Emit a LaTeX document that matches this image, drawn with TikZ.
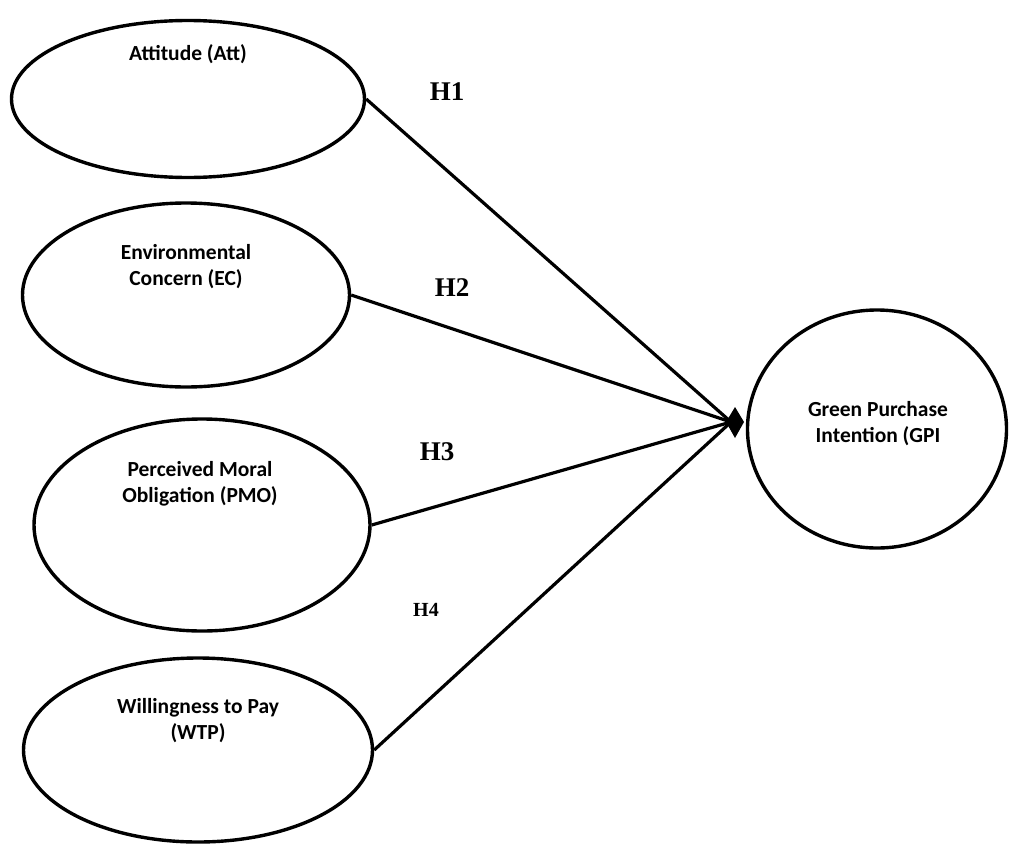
\documentclass[tikz,border=0pt]{standalone}
\usepackage{fontspec}
\setmainfont{Carlito}
\newfontfamily\tnr{Liberation Serif}
\usetikzlibrary{shapes.geometric}
\begin{document}
\begin{tikzpicture}[x=1pt,y=-1pt,
  oval/.style={draw=black, line width=3.4pt, ellipse, inner sep=0pt},
  lbl/.style={font=\fontsize{21.5}{26}\selectfont\bfseries, align=center, inner sep=0pt},
  hyp/.style={font=\tnr\fontsize{27}{30}\selectfont\bfseries, inner sep=0pt},
  hyps/.style={font=\tnr\fontsize{20}{24}\selectfont\bfseries, inner sep=0pt},
  link/.style={draw=black, line width=3.2pt}]
\useasboundingbox (0,0) rectangle (1009,846);

% constructs
\node[oval, minimum width=353pt, minimum height=157pt] (att) at (188,99) {};
\node[lbl] (attT) at (188,54) {Attitude (Att)};

\node[oval, minimum width=327pt, minimum height=184pt] (ec) at (186,295) {};
\node[lbl] (ecT) at (186,267) {Environmental\\Concern (EC)};

\node[oval, minimum width=336pt, minimum height=212pt] (pmo) at (202,525) {};
\node[lbl] (pmoT) at (200,484) {Perceived Moral\\Obligation (PMO)};

\node[oval, minimum width=349pt, minimum height=184pt] (wtp) at (198,750) {};
\node[lbl] (wtpT) at (198,721) {Willingness to Pay\\(WTP)};

\node[oval, minimum width=259pt, minimum height=238pt] (gpi) at (877,429) {};
\node[lbl] (gpiT) at (878,424) {Green Purchase\\Intention (GPI};

% convergence point and arrow head
\coordinate (tip) at (744,422);
\coordinate (notch) at (731,422);

\draw[link] (att.east) -- (notch);
\draw[link] (ec.east) -- (notch);
\draw[link] (pmo.east) -- (notch);
\draw[link] (wtp.east) -- (notch);
\fill[black] (tip) -- ++(-9,-15) -- ++(-9,15) -- ++(9,16) -- cycle;

% hypothesis labels
\node[hyp] (h1) at (447,92) {H1};
\node[hyp] (h2) at (452,288) {H2};
\node[hyp] (h3) at (437,452) {H3};
\node[hyps] (h4) at (426,610) {H4};
\end{tikzpicture}
\end{document}
